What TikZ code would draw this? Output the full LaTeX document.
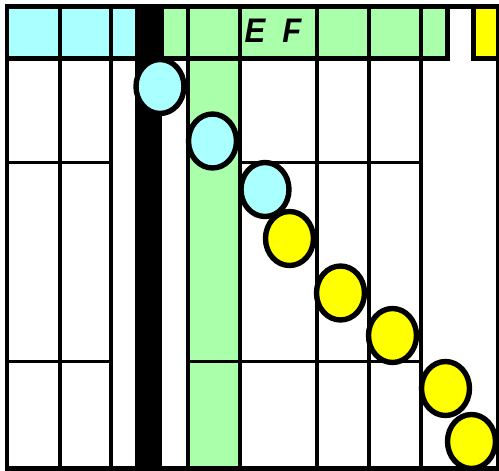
\documentclass[tikz,border=0pt]{standalone}
\usepackage{graphicx}
\usepackage{fontspec}
\setmainfont{Liberation Sans}
\usetikzlibrary{shapes.geometric}
\definecolor{lcyan}{RGB}{170,255,255}
\definecolor{lgrn} {RGB}{170,255,170}
\definecolor{yelw} {RGB}{255,255,  0}
\tikzset{
  % Grid lines
  VL/.style={line width=4.6pt},
  HL/.style={line width=3.2pt},
  % Header cell
  HC/.style={draw=black,fill=#1,line width=4.8pt},
  % Round marker
  CB/.style={ellipse,draw=black,fill=#1,line width=5.4pt,inner sep=0pt,
             minimum width=48pt,minimum height=54pt},
}
\begin{document}
\begin{tikzpicture}[x=1pt,y=-1pt]
      \useasboundingbox (0,0) rectangle (499,471);
      % Green column and black bar
      \fill[lgrn]  (188,58) rectangle (240,468.5);
      \fill[black] (135,6.5) rectangle (162,468.5);
      % Vertical grid lines
      \foreach \x in {60,111,188,240,317,369,421}
        \draw[VL] (\x,58) -- (\x,468.5);
      % Horizontal grid lines
      \draw[HL] (7,162.5) -- (111,162.5);
      \draw[HL] (240,162.5) -- (421,162.5);
      \draw[HL] (7,361.5) -- (111,361.5);
      \draw[HL] (188,361.5) -- (421,361.5);
      % Header cells
      \foreach \a/\b in {7/60,60/111,111/137}
        \draw[HC=lcyan] (\a,6.5) rectangle (\b,58.5);
      \foreach \a/\b in {162/188,188/240,240/317,317/369,369/421,421/447.5}
        \draw[HC=lgrn] (\a,6.5) rectangle (\b,58.5);
      \draw[HC=yelw] (473.5,6.5) rectangle (498.5,58.5);
      % Outer frame
      \draw[line width=4.6pt] (7,6.5) rectangle (498.5,468.5);
      % Markers down the diagonal
      \foreach \n/\x/\y/\c in {1/160/86.5/lcyan,2/212.5/141/lcyan,
                               3/265/189.5/lcyan,4/289.5/238.5/yelw,
                               5/340.5/293/yelw,6/392.5/335.5/yelw,
                               7/445.5/388.5/yelw,8/471.5/441.5/yelw}
        \node[CB=\c] (m\n) at (\x,\y) {};
      % Header label
      \node[inner sep=0pt,font=\bfseries\itshape\fontsize{31}{31}\selectfont]
            (ef) at (273,30.5) {\scalebox{1}[1.1]{E\ \ F}};
\end{tikzpicture}
\end{document}
